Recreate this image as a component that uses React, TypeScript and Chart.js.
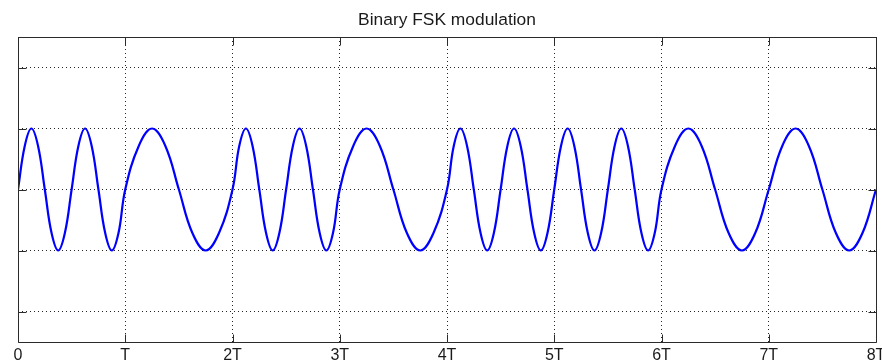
import React, { useEffect, useRef } from "react";
import { Chart, registerables } from "chart.js";

Chart.register(...registerables);

// Sample times (in bit periods T) and signal levels:
// zero crossings, half-height points, peaks and troughs of the FSK waveform.
const timeInT = [
  0, 0.0625, 0.125, 0.1875, 0.25, 0.3125, 0.375, 0.4375, 0.5,
  0.5625, 0.625, 0.6875, 0.75, 0.8125, 0.875, 0.9375, 1,
  1.125, 1.25, 1.375, 1.5, 1.625, 1.75, 1.875, 2,
  2.0625, 2.125, 2.1875, 2.25, 2.3125, 2.375, 2.4375, 2.5,
  2.5625, 2.625, 2.6875, 2.75, 2.8125, 2.875, 2.9375, 3,
  3.125, 3.25, 3.375, 3.5, 3.625, 3.75, 3.875, 4,
  4.0625, 4.125, 4.1875, 4.25, 4.3125, 4.375, 4.4375, 4.5,
  4.5625, 4.625, 4.6875, 4.75, 4.8125, 4.875, 4.9375, 5,
  5.0625, 5.125, 5.1875, 5.25, 5.3125, 5.375, 5.4375, 5.5,
  5.5625, 5.625, 5.6875, 5.75, 5.8125, 5.875, 5.9375, 6,
  6.125, 6.25, 6.375, 6.5, 6.625, 6.75, 6.875, 7,
  7.125, 7.25, 7.375, 7.5, 7.625, 7.75, 7.875, 8,
];
const amplitude = [
  0, 0.71, 1, 0.71, 0, -0.71, -1, -0.71, 0,
  0.71, 1, 0.71, 0, -0.71, -1, -0.71, 0,
  0.71, 1, 0.71, 0, -0.71, -1, -0.71, 0,
  0.71, 1, 0.71, 0, -0.71, -1, -0.71, 0,
  0.71, 1, 0.71, 0, -0.71, -1, -0.71, 0,
  0.71, 1, 0.71, 0, -0.71, -1, -0.71, 0,
  0.71, 1, 0.71, 0, -0.71, -1, -0.71, 0,
  0.71, 1, 0.71, 0, -0.71, -1, -0.71, 0,
  0.71, 1, 0.71, 0, -0.71, -1, -0.71, 0,
  0.71, 1, 0.71, 0, -0.71, -1, -0.71, 0,
  0.71, 1, 0.71, 0, -0.71, -1, -0.71, 0,
  0.71, 1, 0.71, 0, -0.71, -1, -0.71, 0,
];
const xTickValues = [0, 1, 2, 3, 4, 5, 6, 7, 8];
const xTickLabels = ["0", "T", "2T", "3T", "4T", "5T", "6T", "7T", "8T"];
const yTickValues = [-2, -1, 0, 1, 2];
const titleText = "Binary FSK modulation";

const FONT = "'Liberation Sans', Arial, Helvetica, sans-serif";

const framePlugin = {
  id: "frameTicks",
  afterDraw(chart: any) {
    const { ctx, chartArea } = chart;
    const xs = chart.scales.x;
    const ys = chart.scales.y;
    const L = Math.round(chartArea.left) + 0.5;
    const R = Math.round(chartArea.right) + 0.5;
    const T = Math.round(chartArea.top) + 0.5;
    const B = Math.round(chartArea.bottom) + 0.5;
    const len = 8;
    ctx.save();
    ctx.strokeStyle = "#2b2b2b";
    ctx.lineWidth = 1;
    ctx.setLineDash([]);
    ctx.beginPath();
    ctx.rect(L, T, R - L, B - T);
    for (const v of xTickValues) {
      const px = Math.round(xs.getPixelForValue(v)) + 0.5;
      ctx.moveTo(px, B);
      ctx.lineTo(px, B - len);
      ctx.moveTo(px, T);
      ctx.lineTo(px, T + len);
    }
    for (const v of yTickValues) {
      const py = Math.round(ys.getPixelForValue(v)) + 0.5;
      ctx.moveTo(L, py);
      ctx.lineTo(L + len, py);
      ctx.moveTo(R, py);
      ctx.lineTo(R - len, py);
    }
    ctx.stroke();
    ctx.restore();
  },
};

export default function App() {
  const canvasRef = useRef<HTMLCanvasElement | null>(null);

  useEffect(() => {
    const canvas = canvasRef.current;
    if (!canvas) return;
    const points = timeInT.map((t, i) => ({ x: t, y: amplitude[i] }));
    const chart = new Chart(canvas, {
      type: "line",
      data: {
        datasets: [
          {
            label: "FSK",
            data: points,
            borderColor: "#0000ff",
            borderWidth: 2.2,
            pointRadius: 0,
            tension: 0.4,
            fill: false,
          },
        ],
      },
      options: {
        animation: false,
        responsive: true,
        maintainAspectRatio: false,
        layout: {
          autoPadding: false,
          padding: { left: 18, right: 6, top: 0, bottom: 0 },
        },
        plugins: {
          legend: { display: false },
          tooltip: { enabled: false },
          title: {
            display: true,
            text: titleText,
            color: "#1a1a1a",
            font: { family: FONT, size: 17.4, weight: "normal", lineHeight: "20px" },
            padding: { top: 10, bottom: 7 },
          },
        },
        scales: {
          x: {
            type: "linear",
            min: 0,
            max: 8,
            afterBuildTicks: (scale: any) => {
              scale.ticks = xTickValues.map((v) => ({ value: v }));
            },
            afterFit: (scale: any) => {
              scale.height = 22;
              scale.paddingLeft = 0;
              scale.paddingRight = 0;
            },
            ticks: {
              autoSkip: false,
              maxRotation: 0,
              padding: 4,
              color: "#1a1a1a",
              font: { family: FONT, size: 16 },
              callback: (value: any) => xTickLabels[xTickValues.indexOf(Number(value))] ?? "",
            },
            grid: {
              drawTicks: false,
              color: "rgba(0,0,0,0.85)",
              lineWidth: 1,
            },
            border: { display: false, dash: [1, 3] },
          },
          y: {
            type: "linear",
            min: -2.5,
            max: 2.5,
            afterBuildTicks: (scale: any) => {
              scale.ticks = yTickValues.map((v) => ({ value: v }));
            },
            afterFit: (scale: any) => {
              scale.width = 0;
              scale.paddingTop = 0;
              scale.paddingBottom = 0;
            },
            ticks: { display: false },
            grid: {
              drawTicks: false,
              color: "rgba(0,0,0,0.85)",
              lineWidth: 1,
            },
            border: { display: false, dash: [1, 3] },
          },
        },
      },
      plugins: [framePlugin],
    });
    return () => chart.destroy();
  }, []);

  return (
    <div style={{ position: "fixed", left: 0, top: 0, width: 882, height: 364, background: "#fff" }}>
      <canvas ref={canvasRef} />
    </div>
  );
}
